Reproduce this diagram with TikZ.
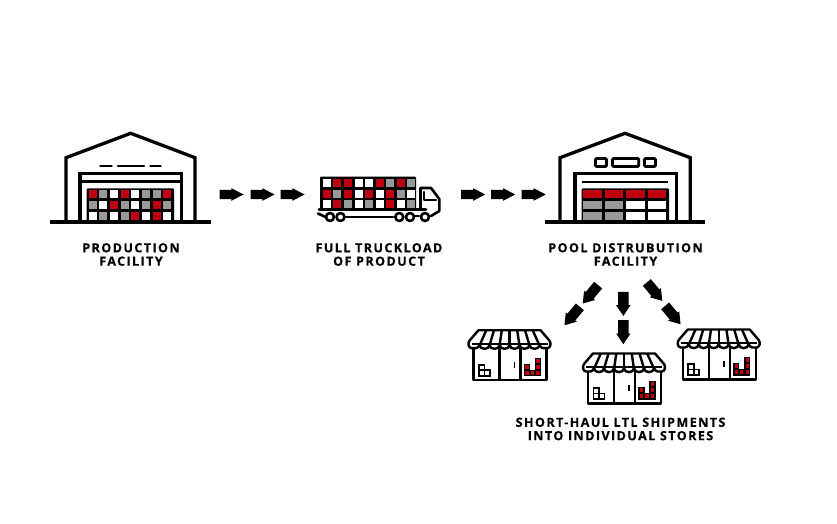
\documentclass[tikz,border=0pt]{standalone}
\usepackage{fontspec}
\setmainfont{Open Sans}[LetterSpace=11,BoldFeatures={FakeBold=0.4}]
\usetikzlibrary{shapes.arrows}
\definecolor{boxred}{HTML}{C00010}
\definecolor{boxgrey}{HTML}{999999}
\newcommand{\flowshaft}{\rule{0pt}{8.7pt}}
\newcommand{\dropshaft}{\rule{0pt}{10pt}}
\tikzset{
  wall/.style={line width=3.3pt, line join=miter},
  thin wall/.style={line width=2.6pt, line join=round, line cap=round},
  redcell/.style={rectangle, fill=boxred, minimum size=8pt, inner sep=0pt},
  greycell/.style={rectangle, fill=boxgrey, minimum size=8pt, inner sep=0pt},
  whitecell/.style={rectangle, fill=white, minimum size=8pt, inner sep=0pt},
  wide red/.style={rectangle, fill=boxred, minimum width=18.6pt, minimum height=8pt, inner sep=0pt},
  wide grey/.style={rectangle, fill=boxgrey, minimum width=18.6pt, minimum height=8pt, inner sep=0pt},
  wide white/.style={rectangle, fill=white, minimum width=18.6pt, minimum height=8pt, inner sep=0pt},
  flow/.style={single arrow, anchor=tail, fill=black, inner sep=0pt, minimum height=24pt,
    single arrow head extend=1.7pt, single arrow tip angle=55},
  drop/.style={single arrow, anchor=tail, fill=black, inner sep=0pt, minimum height=24pt,
    single arrow head extend=2pt, single arrow tip angle=68},
  caption/.style={align=center, font=\bfseries\fontsize{12.6}{13.4}\selectfont},
  storeicon/.pic={
    \draw[line width=2.4pt, line join=round] (-36,-6) -- (-36,28.5) -- (37,28.5) -- (37,-6);
    \draw[line width=2.4pt] (-10,-4) -- (-10,28.5);
    \draw[line width=2.4pt] (11,-4) -- (11,28.5);
    \draw[line width=1.8pt] (5,10) -- (5,16);
    % awning
    \draw[line width=2.4pt, line join=round, fill=white] (-31,-21.5) -- (31,-21.5) -- (40,-11)
      .. controls (42,-8) and (41,-4) .. (38,-3.5)
      .. controls (35,-3) and (31,-3) .. (30,-7)
      .. controls (30,-1.5) and (20,-1.5) .. (20,-7)
      .. controls (20,-1.5) and (10,-1.5) .. (10,-7)
      .. controls (10,-1.5) and (0,-1.5) .. (0,-7)
      .. controls (0,-1.5) and (-10,-1.5) .. (-10,-7)
      .. controls (-10,-1.5) and (-20,-1.5) .. (-20,-7)
      .. controls (-20,-1.5) and (-30,-1.5) .. (-30,-7)
      .. controls (-31,-3) and (-35,-3) .. (-38,-3.5)
      .. controls (-41,-4) and (-42,-8) .. (-40,-11) -- cycle;
    \draw[line width=2.4pt] (-38,-8) -- (38,-8);
    \draw[line width=2.4pt] (-23.2,-21.5) -- (-29.2,-8);
    \draw[line width=2.4pt] (-15.5,-21.5) -- (-19.5,-8);
    \draw[line width=2.4pt] (-7.7,-21.5) -- (-9.7,-8);
    \draw[line width=2.4pt] (0,-21.5) -- (0,-8);
    \draw[line width=2.4pt] (7.7,-21.5) -- (9.7,-8);
    \draw[line width=2.4pt] (15.5,-21.5) -- (19.5,-8);
    \draw[line width=2.4pt] (23.2,-21.5) -- (29.2,-8);
    % empty boxes
    \draw[line width=1.7pt] (-30.5,13) rectangle (-25,18.5);
    \draw[line width=1.7pt] (-30.5,18.5) rectangle (-25,24);
    \draw[line width=1.7pt] (-25,18.5) rectangle (-19.5,24);
    % stacked boxes
    \fill[black] (14.3,12) rectangle (20.5,24.5);
    \fill[black] (20.5,18) rectangle (25.3,24.5);
    \fill[black] (25.3,6) rectangle (31.7,24.5);
    \fill[boxred] (15.8,13.4) rectangle (19.2,16.8);
    \fill[boxred] (15.8,19.4) rectangle (19.2,22.8);
    \fill[boxred] (21.3,19.4) rectangle (24.7,22.8);
    \fill[boxred] (26.8,7.4) rectangle (30.2,10.8);
    \fill[boxred] (26.8,13.4) rectangle (30.2,16.8);
    \fill[boxred] (26.8,19.4) rectangle (30.2,22.8);
  }
}
\begin{document}
\begin{tikzpicture}[x=1pt, y=-1pt]
\useasboundingbox (0,0) rectangle (837,524);

% production facility
\draw[wall] (66,222) -- (66,157.7) -- (130.7,133.3) -- (195,157.7) -- (195,222);
\draw[wall] (50,222) -- (211,222);
\draw[wall] (80,222) -- (80,173.7) -- (181.7,173.7) -- (181.7,222);
\draw[line width=2.6pt] (80,181.5) -- (181.7,181.5);
\draw[line width=2.8pt, line cap=round] (100.5,166) -- (111.5,166);
\draw[line width=2.8pt, line cap=round] (118,166) -- (144,166);
\draw[line width=2.8pt, line cap=round] (150.5,166) -- (160.5,166);
\fill[black, rounded corners=1pt] (86.7,188.3) rectangle (174,222);
\node[redcell] (P1) at (92.7,194.3) {};
\node[greycell] (P2) at (103.3,194.3) {};
\node[whitecell] (P3) at (114,194.3) {};
\node[redcell] (P4) at (124.7,194.3) {};
\node[whitecell] (P5) at (135.3,194.3) {};
\node[greycell] (P6) at (146,194.3) {};
\node[greycell] (P7) at (156.7,194.3) {};
\node[redcell] (P8) at (167.3,194.3) {};
\node[greycell] (P9) at (92.7,205) {};
\node[whitecell] (P10) at (103.3,205) {};
\node[redcell] (P11) at (114,205) {};
\node[greycell] (P12) at (124.7,205) {};
\node[whitecell] (P13) at (135.3,205) {};
\node[greycell] (P14) at (146,205) {};
\node[redcell] (P15) at (156.7,205) {};
\node[greycell] (P16) at (167.3,205) {};
\node[whitecell] (P17) at (92.7,215.7) {};
\node[greycell] (P18) at (103.3,215.7) {};
\node[whitecell] (P19) at (114,215.7) {};
\node[greycell] (P20) at (124.7,215.7) {};
\node[redcell] (P21) at (135.3,215.7) {};
\node[whitecell] (P22) at (146,215.7) {};
\node[redcell] (P23) at (156.7,215.7) {};
\node[whitecell] (P24) at (167.3,215.7) {};

% truck
\fill[black, rounded corners=1pt] (320,176.7) rectangle (416,209.5);
\node[whitecell] (T1) at (326.7,182.7) {};
\node[redcell] (T2) at (337.3,182.7) {};
\node[redcell] (T3) at (348,182.7) {};
\node[whitecell] (T4) at (358.7,182.7) {};
\node[whitecell] (T5) at (369.3,182.7) {};
\node[redcell] (T6) at (380,182.7) {};
\node[greycell] (T7) at (390.3,182.7) {};
\node[redcell] (T8) at (400.7,182.7) {};
\node[greycell] (T9) at (411.3,182.7) {};
\node[redcell] (T10) at (326.7,193.5) {};
\node[greycell] (T11) at (337.3,193.5) {};
\node[redcell] (T12) at (348,193.5) {};
\node[whitecell] (T13) at (358.7,193.5) {};
\node[redcell] (T14) at (369.3,193.5) {};
\node[whitecell] (T15) at (380,193.5) {};
\node[redcell] (T16) at (390.3,193.5) {};
\node[greycell] (T17) at (400.7,193.5) {};
\node[whitecell] (T18) at (411.3,193.5) {};
\node[whitecell] (T19) at (326.7,204.3) {};
\node[redcell] (T20) at (337.3,204.3) {};
\node[greycell] (T21) at (348,204.3) {};
\node[whitecell] (T22) at (358.7,204.3) {};
\node[greycell] (T23) at (369.3,204.3) {};
\node[whitecell] (T24) at (380,204.3) {};
\node[redcell] (T25) at (390.3,204.3) {};
\node[whitecell] (T26) at (400.7,204.3) {};
\node[greycell] (T27) at (411.3,204.3) {};
\draw[thin wall] (420.5,209) -- (420.5,188) -- (431,188) -- (439.3,199) -- (439.3,211) -- (431,216);
\draw[thin wall] (424,192) -- (424,200) -- (436,200);
\draw[thin wall] (319,209.5) -- (426,209.5);
\draw[thin wall] (318,213.5) -- (325.5,217);
\draw[thin wall] (346,217) -- (393,217);
\draw[thin wall] (415,216) -- (419,216);
\draw[thin wall] (330,217) circle (4);
\draw[thin wall] (340.5,217) circle (4);
\draw[thin wall] (399.3,217) circle (4);
\draw[thin wall] (410,217) circle (4);
\draw[thin wall] (425,217) circle (4);

% pool distribution facility
\draw[wall] (560,222) -- (560,157.7) -- (625,133.3) -- (690.3,157.7) -- (690.3,222);
\draw[wall] (545,222) -- (705,222);
\draw[wall] (575,222) -- (575,173.7) -- (676.7,173.7) -- (676.7,222);
\draw[line width=2.4pt] (582.3,181.7) -- (668,181.7);
\draw[line width=2.8pt, rounded corners=1pt] (595.5,158.5) rectangle (606.5,166.5);
\draw[line width=2.8pt, rounded corners=1pt] (612.5,158.5) rectangle (638.7,166.5);
\draw[line width=2.8pt, rounded corners=1pt] (644.5,158.5) rectangle (655.5,166.5);
\fill[black, rounded corners=1pt] (581.7,188.3) rectangle (669,222);
\node[wide red] (D1) at (592.7,194.3) {};
\node[wide red] (D2) at (614,194.3) {};
\node[wide red] (D3) at (635.7,194.3) {};
\node[wide red] (D4) at (657,194.3) {};
\node[wide grey] (D5) at (592.7,205) {};
\node[wide grey] (D6) at (614,205) {};
\node[wide white] (D7) at (635.7,205) {};
\node[wide white] (D8) at (657,205) {};
\node[wide grey] (D9) at (592.7,215.7) {};
\node[wide grey] (D10) at (614,215.7) {};
\node[wide white] (D11) at (635.7,215.7) {};
\node[wide white] (D12) at (657,215.7) {};

% stores
\pic (S1) at (509.5,351.7) {storeicon};
\pic (S2) at (624,375) {storeicon};
\pic (S3) at (718.7,351) {storeicon};

% arrows
\node[flow] (A1) at (219.3,194.5) {\flowshaft};
\node[flow] (A2) at (250.3,194.5) {\flowshaft};
\node[flow] (A3) at (280.3,194.5) {\flowshaft};
\node[flow] (A4) at (461,194.5) {\flowshaft};
\node[flow] (A5) at (491,194.5) {\flowshaft};
\node[flow] (A6) at (521.5,194.5) {\flowshaft};
\node[drop, rotate=230] (B1) at (598.3,285) {\dropshaft};
\node[drop, rotate=230] (B2) at (580,306.7) {\dropshaft};
\node[drop, rotate=-90] (B3) at (623.3,291.7) {\dropshaft};
\node[drop, rotate=-90] (B4) at (623.3,320) {\dropshaft};
\node[drop, rotate=-50] (B5) at (646.7,282.3) {\dropshaft};
\node[drop, rotate=-50] (B6) at (665,305.7) {\dropshaft};

% labels
\node[caption] (L1) at (131,254.5) {PRODUCTION\\FACILITY};
\node[caption] (L2) at (379,254.5) {FULL TRUCKLOAD\\OF PRODUCT};
\node[caption] (L3) at (625.5,254.5) {POOL DISTRUBUTION\\FACILITY};
\node[caption] (L4) at (620.5,429) {SHORT-HAUL LTL SHIPMENTS\\INTO INDIVIDUAL STORES};
\end{tikzpicture}
\end{document}
